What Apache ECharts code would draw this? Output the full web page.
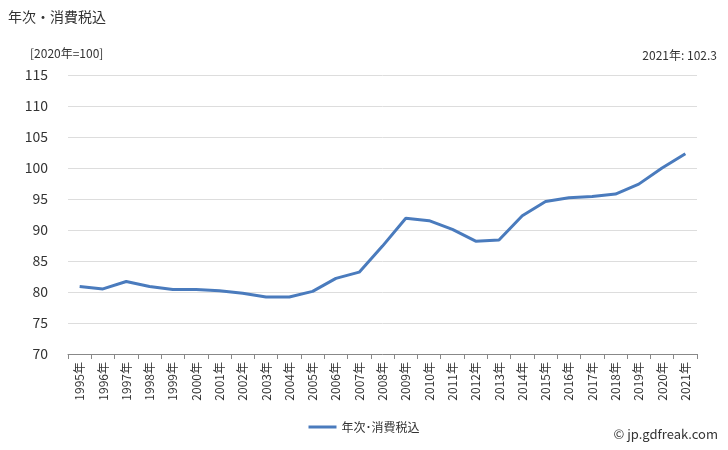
<!DOCTYPE html>
<html><head><meta charset="utf-8">
<script src="https://cdn.jsdelivr.net/npm/echarts@6/dist/echarts.min.js"></script>
<style>body{margin:0}#c{width:728px;height:450px}</style></head>
<body><div id="c"></div>
<script>
const years = ['1995年','1996年','1997年','1998年','1999年','2000年','2001年','2002年','2003年','2004年','2005年','2006年','2007年','2008年','2009年','2010年','2011年','2012年','2013年','2014年','2015年','2016年','2017年','2018年','2019年','2020年','2021年'];
const values = [80.9,80.5,81.7,80.9,80.4,80.4,80.2,79.8,79.2,79.2,80.1,82.2,83.2,87.4,91.9,91.5,90.1,88.2,88.4,92.3,94.6,95.2,95.4,95.8,97.4,100.0,102.3];
const seriesName = '年次･消費税込';
const font = '"Noto Sans CJK JP", sans-serif';
const chart = echarts.init(document.getElementById('c'));
chart.setOption({
  animation:false,
  textStyle:{fontFamily:font},
  graphic:[
    {type:'text',left:8,top:10,style:{text:'年次・消費税込',font:'14px '+font,fill:'#333'}},
    {type:'text',left:30,top:47,style:{text:'[2020年=100]',font:'12px '+font,fill:'#333'}},
    {type:'text',right:11,top:49,style:{text:'2021年: 102.3',font:'12px '+font,fill:'#333'}},
    {type:'text',right:10,top:428,style:{text:'© jp.gdfreak.com',font:'13px '+font,fill:'#333'}}
  ],
  grid:{left:68,right:31,top:75,bottom:96},
  legend:{bottom:12,left:'center',itemWidth:28,itemHeight:3,icon:'rect',textStyle:{fontSize:12,color:'#333'},data:[seriesName]},
  xAxis:{type:'category',data:years,boundaryGap:true,
    axisLine:{lineStyle:{color:'#888'}},axisTick:{show:true,alignWithLabel:false,lineStyle:{color:'#888'}},
    axisLabel:{rotate:90,interval:0,fontSize:12,color:'#333'}},
  yAxis:{type:'value',min:70,max:115,interval:5,
    axisLine:{show:false},axisTick:{show:false},
    splitLine:{lineStyle:{color:'#ddd'}},
    axisLabel:{fontSize:14,color:'#333',margin:20}},
  series:[{name:seriesName,type:'line',data:values,symbol:'none',
    lineStyle:{color:'#4a7bbd',width:3},itemStyle:{color:'#4a7bbd'}}]
});
</script></body></html>
